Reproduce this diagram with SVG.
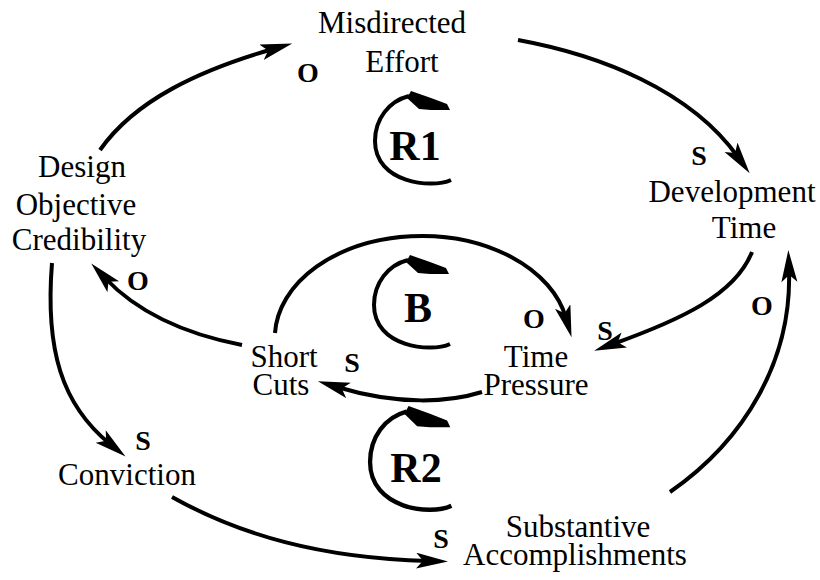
<svg xmlns="http://www.w3.org/2000/svg" xmlns:xlink="http://www.w3.org/1999/xlink" width="820" height="580" viewBox="0 0 820 580">
<style>
.lbl{font-family:"Liberation Serif","Times New Roman",serif;font-size:31px;fill:#000;text-anchor:middle}
.pol{font-family:"Liberation Serif","Times New Roman",serif;font-size:28px;font-weight:bold;fill:#000;text-anchor:middle}
.loop{font-family:"Liberation Serif","Times New Roman",serif;font-size:42px;font-weight:bold;fill:#000;text-anchor:middle}
.link{fill:none;stroke:#000;stroke-width:4;marker-end:url(#ah)}
.arc{fill:none;stroke:#000;stroke-width:4}
</style>
<defs>
<marker id="ah" markerUnits="userSpaceOnUse" markerWidth="34" markerHeight="18" refX="12" refY="8" orient="auto">
<path d="M0,0 L32,8 L0,16 L7,8 z" fill="#000"/>
</marker>
<g id="loopArrow">
<path class="arc" d="M34,39 C 15,48 -42,42 -42,0 C -42,-22 -28,-40 -8,-45"/>
<path d="M-6,-50 L14,-43 L30,-37 L33,-31 L14,-31 L2,-32 L-10,-43 z" fill="#000"/>
</g>
</defs>
<rect width="820" height="580" fill="#fff"/>
<g id="connectors">
<path class="link" d="M100,150 C 135,100 200,70 273,49"/>
<path class="link" d="M518,40 C 600,55 690,90 738,157"/>
<path class="link" d="M752,252 C 735,295 680,320 613,344"/>
<path class="link" d="M670,492 C 745,440 792,360 789,270"/>
<path class="link" d="M482,392 C 450,402 400,406 337,387"/>
<path class="link" d="M275,333 A 147 102 0 0 1 566,318"/>
<path class="link" d="M242,345 C 190,335 140,315 105,278"/>
<path class="link" d="M52,263 C 45,350 62,405 110,444"/>
<path class="link" d="M172,497 C 240,535 320,558 428,561"/>
</g>
<g id="polarities">
<text class="pol" x="308" y="82">O</text>
<text class="pol" x="699" y="165">S</text>
<text class="pol" x="605" y="340">S</text>
<text class="pol" x="762" y="315">O</text>
<text class="pol" x="534" y="328">O</text>
<text class="pol" x="352" y="372">S</text>
<text class="pol" x="138" y="290">O</text>
<text class="pol" x="143" y="450">S</text>
<text class="pol" x="441" y="548">S</text>
</g>
<g id="loopR1">
<use xlink:href="#loopArrow" transform="translate(417,141)"/>
<text class="loop" x="415" y="160">R1</text>
</g>
<g id="loopB">
<use xlink:href="#loopArrow" transform="translate(416,305)"/>
<text class="loop" x="418" y="322">B</text>
</g>
<g id="loopR2">
<use xlink:href="#loopArrow" transform="translate(415,462) scale(1.07,1.12)"/>
<text class="loop" x="416" y="482">R2</text>
</g>
<g id="misdirectedEffort">
<text class="lbl" x="392" y="33">Misdirected</text>
<text class="lbl" x="402" y="72">Effort</text>
</g>
<g id="developmentTime">
<text class="lbl" x="732" y="202">Development</text>
<text class="lbl" x="744" y="238">Time</text>
</g>
<g id="designObjectiveCredibility">
<text class="lbl" x="82" y="177">Design</text>
<text class="lbl" x="76" y="215">Objective</text>
<text class="lbl" x="79" y="250">Credibility</text>
</g>
<g id="shortCuts">
<text class="lbl" x="284" y="367">Short</text>
<text class="lbl" x="281" y="395">Cuts</text>
</g>
<g id="timePressure">
<text class="lbl" x="536" y="367">Time</text>
<text class="lbl" x="536" y="395">Pressure</text>
</g>
<g id="conviction">
<text class="lbl" x="127" y="485">Conviction</text>
</g>
<g id="substantiveAccomplishments">
<text class="lbl" x="578" y="537">Substantive</text>
<text class="lbl" x="575" y="565">Accomplishments</text>
</g>
</svg>
